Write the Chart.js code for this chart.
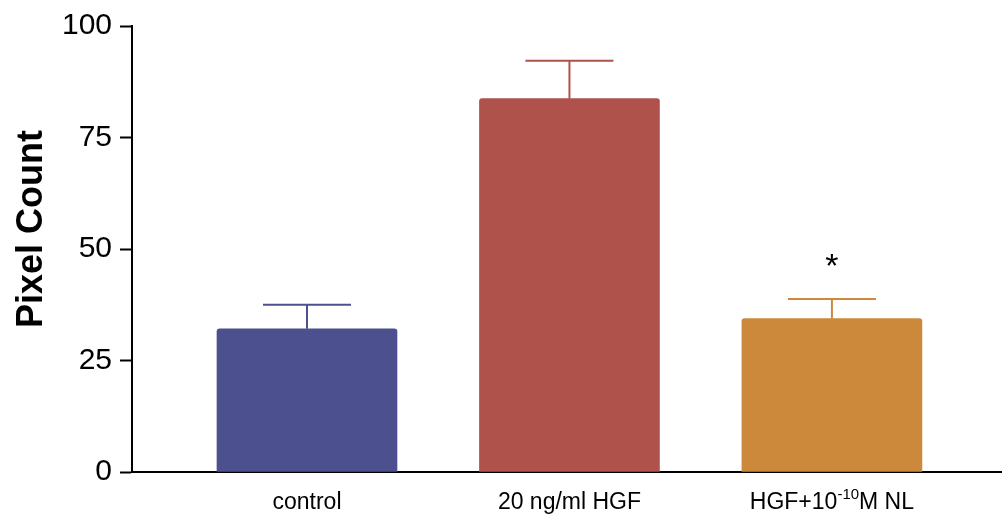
<!DOCTYPE html>
<html>
<head>
<meta charset="UTF-8">
<title>Pixel Count</title>
<script src="https://cdn.jsdelivr.net/npm/chart.js"></script>
<style>
  body { margin: 0; background: #fff; }
  #wrap { width: 1002px; height: 521px; }
</style>
</head>
<body>
<div id="wrap"><canvas id="chart"></canvas></div>
<script>
// data
const categories = ['control', '20 ng/ml HGF', 'HGF+10{-10}M NL'];  // {..} = superscript
const values = [32.1, 83.7, 34.4];
const errors = [5.4, 8.5, 4.4];
const marks = ['', '', '*'];
const colors = ['#4c508e', '#b0524c', '#cc893b'];
const yTicks = [0, 25, 50, 75, 100];

const FONT = '"Liberation Sans", Arial, sans-serif';

// error bars, significance marks, category labels and y title
const extras = {
  id: 'extras',
  afterDatasetsDraw(chart) {
    const ctx = chart.ctx;
    const xs = chart.scales.x, ys = chart.scales.y;
    ctx.save();
    values.forEach((v, i) => {
      const x = xs.getPixelForValue(i + 1);
      const yBar = ys.getPixelForValue(v);
      const yTop = ys.getPixelForValue(v + errors[i]);
      ctx.strokeStyle = colors[i];
      ctx.lineWidth = 2;
      ctx.beginPath();
      ctx.moveTo(x, yBar);
      ctx.lineTo(x, yTop);
      ctx.moveTo(x - 44, yTop);
      ctx.lineTo(x + 44, yTop);
      ctx.stroke();
      if (marks[i]) {
        ctx.fillStyle = '#000';
        ctx.font = '34px ' + FONT;
        ctx.textAlign = 'center';
        ctx.textBaseline = 'alphabetic';
        ctx.fillText(marks[i], x, yTop - 22);
      }
    });
    ctx.restore();
  },
  afterDraw(chart) {
    const ctx = chart.ctx;
    const xs = chart.scales.x, ys = chart.scales.y;
    ctx.save();
    ctx.fillStyle = '#000';
    ctx.textBaseline = 'alphabetic';
    ctx.textAlign = 'left';
    categories.forEach((lab, i) => {
      const parts = lab.split(/[{}]/).map((t, k) => ({ t, sup: k % 2 === 1 }));
      let total = 0;
      parts.forEach(p => {
        ctx.font = (p.sup ? '15px ' : '23px ') + FONT;
        p.w = ctx.measureText(p.t).width;
        total += p.w;
      });
      let x = xs.getPixelForValue(i + 1) - total / 2;
      const base = 509;
      parts.forEach(p => {
        ctx.font = (p.sup ? '15px ' : '23px ') + FONT;
        ctx.fillText(p.t, x, p.sup ? base - 10 : base);
        x += p.w;
      });
    });
    // y axis title
    ctx.translate(42, (ys.top + ys.bottom) / 2 - 20);
    ctx.rotate(-Math.PI / 2);
    ctx.font = 'bold 36px ' + FONT;
    ctx.textAlign = 'center';
    ctx.fillText('Pixel Count', 0, 0);
    ctx.restore();
  }
};

new Chart(document.getElementById('chart'), {
  type: 'bar',
  data: {
    datasets: [{
      data: values.map((v, i) => ({ x: i + 1, y: v })),
      backgroundColor: colors,
      barThickness: 180,
      borderRadius: 3,
      borderSkipped: 'start'
    }]
  },
  options: {
    responsive: true,
    maintainAspectRatio: false,
    animation: false,
    layout: { padding: { top: 22, right: 0, left: 0, bottom: 0 } },
    plugins: { legend: { display: false }, tooltip: { enabled: false } },
    scales: {
      x: {
        type: 'linear',
        offset: false,
        min: 0.3333,
        max: 3.648,
        ticks: { display: false },
        grid: { drawOnChartArea: false, drawTicks: false, offset: false },
        border: { color: '#000', width: 2 },
        afterFit: s => { s.height = 49; }
      },
      y: {
        min: 0,
        max: 100,
        afterBuildTicks: s => { s.ticks = yTicks.map(v => ({ value: v })); },
        ticks: { color: '#000', font: { family: FONT, size: 30 }, padding: 8 },
        grid: { drawOnChartArea: false, tickLength: 12, tickColor: '#000', tickWidth: 2 },
        border: { color: '#000', width: 2 },
        afterFit: s => { s.width = 132; }
      }
    }
  },
  plugins: [extras]
});
</script>
</body>
</html>
